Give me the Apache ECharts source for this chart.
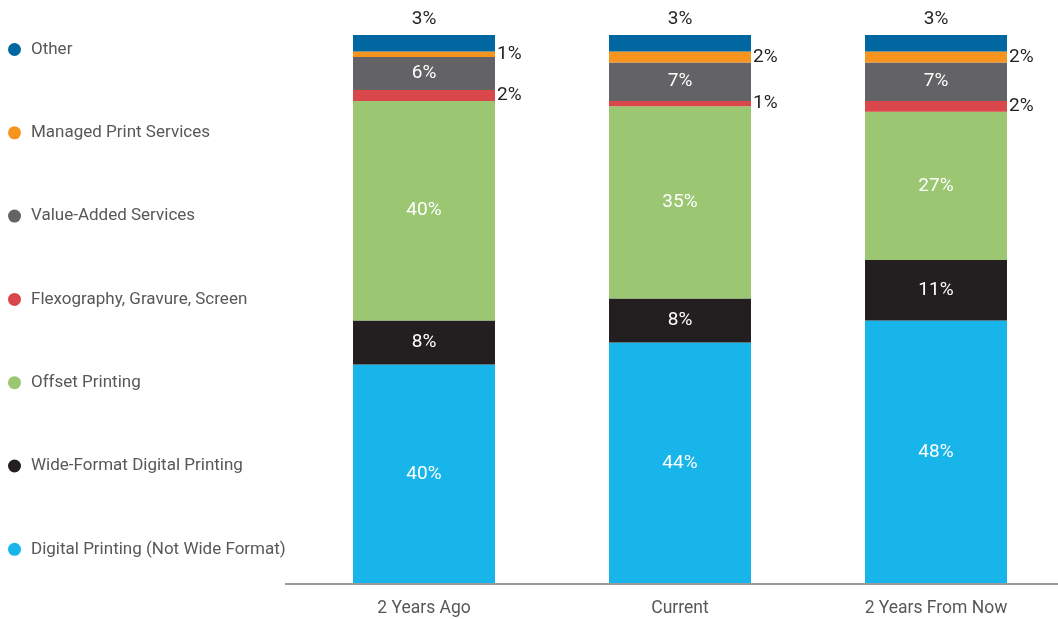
<!DOCTYPE html>
<html>
<head>
<meta charset="utf-8">
<script src="https://cdn.jsdelivr.net/npm/echarts@6/dist/echarts.min.js"></script>
<style>
  html, body { margin: 0; padding: 0; background: #ffffff; }
  #chart { width: 1058px; height: 619px; }
</style>
</head>
<body>
<div id="chart"></div>
<script>
// Share of print revenue by segment (percent of total)
const periods = ['2 Years Ago', 'Current', '2 Years From Now'];

const digitalPrinting = [40, 44, 48];
const wideFormat = [8, 8, 11];
const offsetPrinting = [40, 35, 27];
const flexoGravureScreen = [2, 1, 2];
const valueAdded = [6, 7, 7];
const managedPrint = [1, 2, 2];
const other = [3, 3, 3];

const seriesNames = [
  'Digital Printing (Not Wide Format)',
  'Wide-Format Digital Printing',
  'Offset Printing',
  'Flexography, Gravure, Screen',
  'Value-Added Services',
  'Managed Print Services',
  'Other'
];
const seriesData = [digitalPrinting, wideFormat, offsetPrinting, flexoGravureScreen, valueAdded, managedPrint, other];
const colors = ['#17B5EA', '#231F20', '#9BC672', '#D9474A', '#636366', '#F7941D', '#0067A0'];

// where each segment's value label goes
const labelPlacement = ['inside', 'inside', 'inside', 'right', 'inside', 'right', 'top'];

const FONT = 'Roboto';

const chart = echarts.init(document.getElementById('chart'), null, { renderer: 'canvas' });

const series = seriesNames.map((name, i) => {
  const pos = labelPlacement[i];
  const inside = pos === 'inside';
  return {
    name: name,
    type: 'bar',
    stack: 'share',
    barWidth: 142,
    data: seriesData[i],
    itemStyle: { color: colors[i] },
    label: {
      show: true,
      position: pos,
      distance: pos === 'top' ? 6 : 2,
      formatter: '{c}%',
      color: inside ? '#ffffff' : '#231F20',
      fontFamily: FONT,
      fontSize: 19
    },
    emphasis: { disabled: true }
  };
});

chart.setOption({
  animation: false,
  color: colors,
  textStyle: { fontFamily: FONT },
  grid: {
    left: 296, width: 768, top: 35, bottom: 35,
    containLabel: false,
    outerBoundsMode: 'none'
  },
  legend: {
    orient: 'vertical',
    left: 3,
    top: 36,
    icon: 'circle',
    itemWidth: 13,
    itemHeight: 13,
    itemGap: 66.3,
    data: seriesNames.slice().reverse(),
    selectedMode: false,
    textStyle: {
      color: '#58585A',
      fontFamily: FONT,
      fontSize: 17,
      lineHeight: 17,
      padding: [0, 0, 0, 5]
    }
  },
  xAxis: {
    type: 'category',
    data: periods,
    axisLine: { show: false },
    axisTick: { show: false },
    axisLabel: {
      color: '#58585A',
      fontFamily: FONT,
      fontSize: 17.5,
      margin: 16
    }
  },
  yAxis: {
    type: 'value',
    min: 0,
    max: 100,
    show: false,
    splitLine: { show: false }
  },
  graphic: [{
    type: 'line',
    shape: { x1: 285, y1: 584, x2: 1058, y2: 584 },
    style: { stroke: '#9A9A9A', lineWidth: 2 },
    z: 10
  }],
  series: series
});
</script>
</body>
</html>
